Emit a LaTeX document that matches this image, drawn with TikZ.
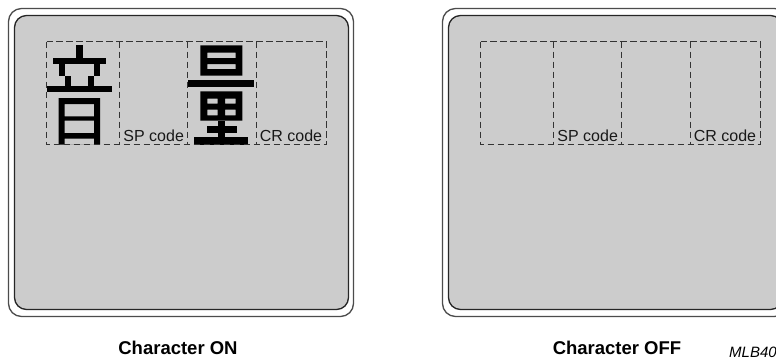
\documentclass[tikz,border=0pt]{standalone}
\usepackage{fontspec}
\setmainfont{Liberation Sans}
\tikzset{
  px/.style={x=1pt,y=-1pt},
  outerpanel/.style={draw=black!70,line width=1.3pt,fill=white,rounded corners=13pt},
  innerpanel/.style={draw=black!85,line width=1.3pt,fill=panelgray,rounded corners=12pt},
  cellgrid/.style={draw=black!80,line width=1.8pt,dash pattern=on 6.5pt off 3.5pt},
  codelabel/.style={anchor=center,inner sep=0pt,font=\fontsize{16}{16}\selectfont,text=black!90},
  caption/.style={anchor=center,inner sep=0pt,font=\fontsize{18.5}{20}\selectfont\bfseries},
  glyph/.style={fill=black,even odd rule}
}
\definecolor{panelgray}{RGB}{204,204,204}
\newcommand{\panelgrid}[1]{%
  \begin{scope}[shift={(#1,0)}]
    \draw[cellgrid] (46.5,41.5) rectangle (326.5,144.5);
    \draw[cellgrid] (119.5,41.5) -- (119.5,144.5);
    \draw[cellgrid] (187.5,41.5) -- (187.5,144.5);
    \draw[cellgrid] (256.5,41.5) -- (256.5,144.5);
    \node[codelabel] at (153.7,135.5) {SP code};
    \node[codelabel] at (291,135.5) {CR code};
  \end{scope}}
\begin{document}
\begin{tikzpicture}[px]
\useasboundingbox (0,0) rectangle (776,360);
\fill[white] (0,0) rectangle (776,360);
% left panel
\draw[outerpanel] (8.5,8.5) rectangle (353.5,316.5);
\draw[innerpanel] (14.5,15.5) rectangle (348.5,309.5);
% right panel
\begin{scope}
\clip (0,0) rectangle (776,360);
\draw[outerpanel] (442.5,8.5) rectangle (787.5,316.5);
\draw[innerpanel] (448.5,15.5) rectangle (782.5,309.5);
\end{scope}
% glyph 1
\fill[glyph] (76.3,45.3) rectangle (83,58);
\fill[glyph] (52.7,58) rectangle (106,63.7);
\fill[glyph] (58.7,63.7) rectangle (64.7,75.7);
\fill[glyph] (64.7,75.7) rectangle (70.7,86.3);
\fill[glyph] (94,63.7) rectangle (100,75.7);
\fill[glyph] (88,75.7) rectangle (94,86.3);
\fill[glyph] (46.7,86.3) rectangle (112,92.3);
\fill[glyph] (58.7,98) rectangle (100,144.5)
  (64.7,104) rectangle (94,116.3)
  (64.7,120.7) rectangle (94,133)
  (64.7,138.7) rectangle (94,144.5);
% glyph 2
\fill[glyph] (200.3,45.3) rectangle (242.3,75.7)
  (207.3,52.7) rectangle (235.7,58)
  (207.3,64) rectangle (235.7,69);
\fill[glyph] (187.7,80.3) rectangle (253.7,87.3);
\fill[glyph] (200.3,91.3) rectangle (242.3,120.7)
  (207.3,98.7) rectangle (217.7,103.7)
  (225,98.7) rectangle (235.7,103.7)
  (207.3,109.7) rectangle (217.7,115.3)
  (225,109.7) rectangle (235.7,115.3);
\fill[glyph] (206.7,126.3) rectangle (236.7,133);
\fill[glyph] (217.7,120.7) rectangle (225,137.3);
\fill[glyph] (194.3,137.3) rectangle (247.7,144.5);
% grids and labels
\panelgrid{0}
\panelgrid{434}
% captions
\node[caption] (capon) at (178,348) {Character ON};
\node[caption] (capoff) at (617,348) {Character OFF};
\node[anchor=west,inner sep=0pt,font=\fontsize{15}{16}\selectfont\itshape] (ref) at (729,352) {MLB40};
\end{tikzpicture}
\end{document}
